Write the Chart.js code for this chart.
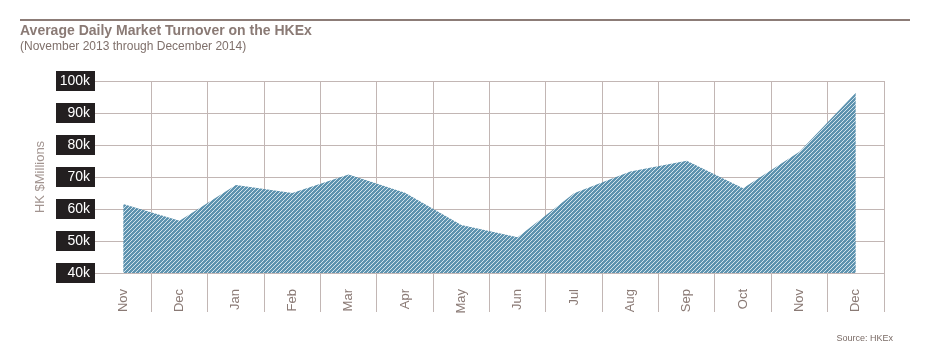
<!DOCTYPE html>
<html>
<head>
<meta charset="utf-8">
<script src="https://cdn.jsdelivr.net/npm/chart.js@4.4.1/dist/chart.umd.min.js"></script>
<style>
  html, body { margin: 0; padding: 0; background: #fff; }
  canvas { display: block; }
</style>
</head>
<body>
<canvas id="turnoverChart" width="928" height="352"></canvas>
<script>
// Nov 2013 .. Dec 2014, HK$ millions
var months = ['Nov', 'Dec', 'Jan', 'Feb', 'Mar', 'Apr', 'May', 'Jun', 'Jul', 'Aug', 'Sep', 'Oct', 'Nov', 'Dec'];
var turnover = [61600, 56300, 67500, 65000, 70800, 65100, 55000, 51200, 64900, 71700, 75100, 66500, 77900, 96300];
var yTickValues = [40000, 50000, 60000, 70000, 80000, 90000, 100000];

var gridColor = '#c2b6b4';
var textColor = '#8a7a75';

var canvas = document.getElementById('turnoverChart');
var ctx = canvas.getContext('2d');

// diagonal stripe fill
function stripePattern(c) {
    var tile = document.createElement('canvas');
    tile.width = 4;
    tile.height = 4;
    var t = tile.getContext('2d');
    t.fillStyle = 'rgba(80, 138, 168, 0.92)';
    t.fillRect(0, 0, 4, 4);
    for (var i = 0; i < 4; i++) {
        t.clearRect(i, 3 - i, 1, 1);
    }
    t.fillStyle = 'rgba(208, 226, 235, 0.95)';
    for (var j = 0; j < 4; j++) {
        t.fillRect(j, 3 - j, 1, 1);
    }
    return c.createPattern(tile, 'repeat');
}

var decorPlugin = {
    id: 'decor',
    beforeDraw: function(chart) {
        var c = chart.ctx;
        var y = chart.scales.y;
        c.save();
        // rule above the title
        c.strokeStyle = '#8c7c77';
        c.lineWidth = 2;
        c.beginPath();
        c.moveTo(20, 20);
        c.lineTo(910, 20);
        c.stroke();
        // black boxes behind the y tick labels
        c.fillStyle = '#231f20';
        y.ticks.forEach(function(t) {
            var py = Math.round(y.getPixelForValue(t.value));
            c.fillRect(56, py - 10, chart.chartArea.left - 56, 20);
        });
        c.restore();
    },
    afterDraw: function(chart) {
        var c = chart.ctx;
        c.save();
        c.font = '9px "Liberation Sans", Arial, sans-serif';
        c.fillStyle = '#7a6b66';
        c.textAlign = 'right';
        c.textBaseline = 'middle';
        c.fillText('Source: HKEx', 893, 339);
        c.restore();
    }
};

var turnoverChart = new Chart(ctx, {
    type: 'line',
    data: {
        labels: months,
        datasets: [{
            label: 'Average daily turnover',
            data: turnover,
            backgroundColor: stripePattern(ctx),
            borderWidth: 0,
            pointRadius: 0,
            tension: 0,
            fill: 'start'
        }]
    },
    options: {
        responsive: false,
        animation: false,
        layout: {
            padding: { top: 22, left: 20, right: 44, bottom: 0 }
        },
        plugins: {
            legend: { display: false },
            tooltip: { enabled: false },
            title: {
                display: true,
                text: 'Average Daily Market Turnover on the HKEx',
                align: 'start',
                color: textColor,
                font: { family: '"Liberation Sans", Arial, sans-serif', size: 14, weight: 'bold' },
                padding: { top: 1, bottom: 0 }
            },
            subtitle: {
                display: true,
                text: '(November 2013 through December 2014)',
                align: 'start',
                color: '#7f706b',
                font: { family: '"Liberation Sans", Arial, sans-serif', size: 12 },
                padding: { top: 0, bottom: 26.8 }
            }
        },
        scales: {
            x: {
                offset: true,
                border: { display: false },
                grid: {
                    offset: true,
                    tickLength: 39,
                    color: function(context) {
                        return context.index === 0 ? 'rgba(0,0,0,0)' : gridColor;
                    }
                },
                ticks: {
                    minRotation: 90,
                    maxRotation: 90,
                    padding: -23,
                    color: textColor,
                    font: { family: '"Liberation Sans", Arial, sans-serif', size: 13 }
                },
                afterFit: function(scale) {
                    scale.height = 79;
                }
            },
            y: {
                min: 40000,
                max: 100000,
                border: { display: false },
                grid: {
                    drawTicks: false,
                    color: gridColor
                },
                afterBuildTicks: function(scale) {
                    scale.ticks = yTickValues.map(function(v) { return { value: v }; });
                },
                ticks: {
                    padding: 5,
                    color: '#ffffff',
                    font: { family: '"Liberation Sans", Arial, sans-serif', size: 14 },
                    callback: function(value) {
                        return (value / 1000) + 'k';
                    }
                },
                title: {
                    display: true,
                    text: 'HK $Millions',
                    color: '#a29490',
                    font: { family: '"Liberation Sans", Arial, sans-serif', size: 13 },
                    padding: { top: 13, bottom: 0 }
                },
                afterFit: function(scale) {
                    scale.width = 75;
                }
            }
        }
    },
    plugins: [decorPlugin]
});
</script>
</body>
</html>
